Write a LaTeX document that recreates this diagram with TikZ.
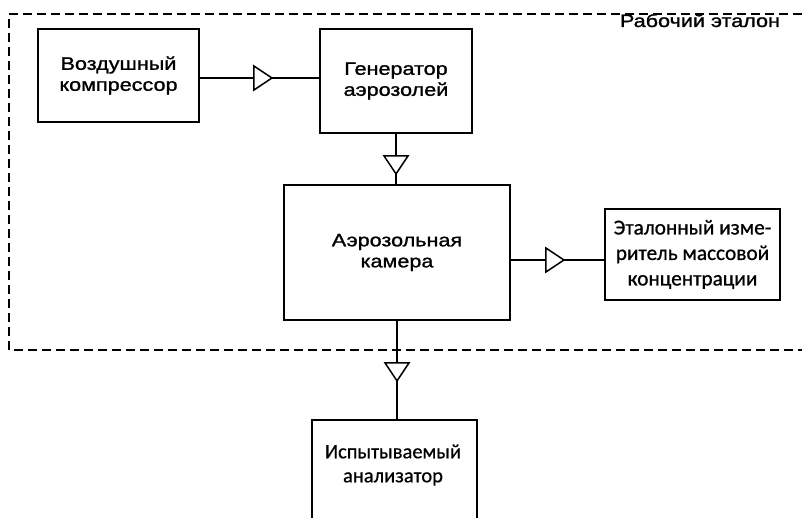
\documentclass[tikz,border=0pt]{standalone}
\usepackage{fontspec}
\setmainfont{Liberation Sans}
\newfontfamily\arialw[FakeStretch=1.2,FakeBold=1.2]{Liberation Sans}
\newfontfamily\calib[FakeBold=0.8]{Carlito}
\usetikzlibrary{decorations.markings}
\begin{document}
\begin{tikzpicture}[x=1pt,y=-1pt,
  box/.style={draw, line width=1.8pt, inner sep=0pt, align=center},
  atext/.style={font=\arialw\fontsize{18}{21}\selectfont},
  ctext/.style={font=\calib\fontsize{20.5}{24}\selectfont},
  mtext/.style={font=\calib\fontsize{21.3}{25.5}\selectfont},
  flow/.style={line width=1.6pt},
  tri/.style={postaction={decorate},decoration={markings, mark=at position #1 with {\draw[fill=white, line width=1.5pt, line join=miter] (-18,12) -- (-18,-12) -- (0,0) -- cycle;}}},
  frame/.style={dash pattern=on 9pt off 5pt, line width=1.3pt}
]
\useasboundingbox (0,0) rectangle (802,518);
\clip (0,0) rectangle (802,518);
\draw[frame] (802,14) -- (9,14) -- (9,350) -- (802,350);
\node[atext, anchor=base, inner sep=1pt] (lbl) at (700,27) {Рабочий эталон};

\node[box, atext, minimum width=161pt, minimum height=93pt] (comp) at (118.5,75.5) {Воздушный\\компрессор};
\node[box, atext, minimum width=152pt, minimum height=104pt] (gen) at (396,81) {Генератор\\аэрозолей};
\node[box, atext, minimum width=226pt, minimum height=135pt] (cam) at (397,252.5) {Аэрозольная\\камера};
\node[box, mtext, minimum width=175pt, minimum height=91pt] (meas) at (692.5,254.5) {Эталонный изме-\\ритель массовой\\концентрации};
\node[box, minimum width=165pt, minimum height=140pt, anchor=north] (an) at (394.5,419) {};
\node[ctext, align=center] (antext) at (393,465) {Испытываемый\\анализатор};

\draw[flow, tri=72pt] ([yshift=-2.5pt]comp.east) -- ([yshift=-2.5pt]comp.east -| gen.west);
\draw[flow, tri=40pt] (gen.south) -- (gen.south |- cam.north);
\draw[flow, tri=53pt] ([yshift=-7.5pt]cam.east) -- ([yshift=-7.5pt]cam.east -| meas.west);
\draw[flow, tri=60pt] (cam.south) -- (cam.south |- an.north);
\end{tikzpicture}
\end{document}
